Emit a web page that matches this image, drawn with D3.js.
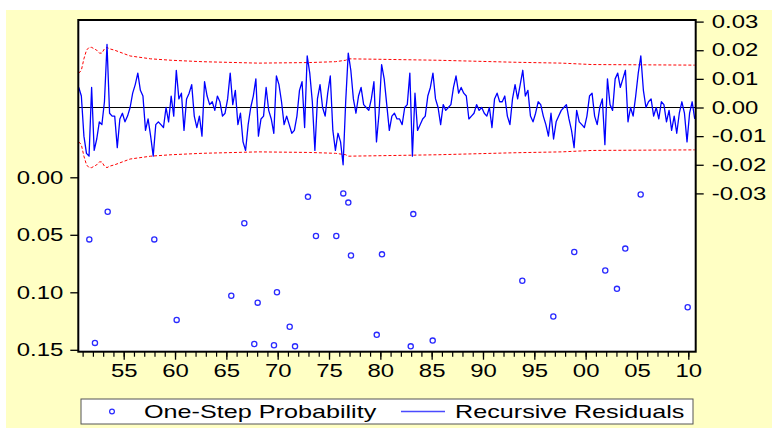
<!DOCTYPE html>
<html>
<head>
<meta charset="utf-8">
<script src="https://cdn.jsdelivr.net/npm/d3@7"></script>
<style>
  html, body { margin: 0; padding: 0; background: #ffffff; }
  svg { display: block; }
  text { font-family: "Liberation Sans", Arial, sans-serif; fill: #000; }
</style>
</head>
<body>
<svg id="chart" width="772" height="428"></svg>
<script>
// ---------------- DATA ----------------
// Recursive residuals, quarterly, first observation 1950Q3
const residStart = 1950.625;   // centre of 1950Q3
const residStep = 0.25;
const residuals = [
  0.007, 0.004, -0.010, -0.016, -0.017, 0.007, -0.015, -0.011, -0.005, -0.006,
  0.002, 0.022, -0.002, -0.003, -0.003, -0.014, -0.004, -0.002, -0.005, -0.003,
  0.000, 0.005, 0.008, 0.012, 0.006, 0.004, -0.008, -0.004, -0.010, -0.017,
  -0.006, -0.005, -0.006, -0.007, 0.000, -0.005, 0.004, -0.003, 0.013, 0.003,
  0.005, -0.008, 0.003, 0.005, 0.008, -0.003, -0.007, -0.003, -0.010, 0.009,
  0.004, 0.001, 0.002, -0.001, 0.004, 0.002, -0.003, -0.002, 0.003, 0.012,
  0.001, 0.006, -0.006, -0.002, -0.012, -0.015, -0.006, 0.000, 0.004, 0.010,
  -0.010, -0.004, -0.003, 0.007, -0.001, -0.004, -0.009, 0.011, 0.008, 0.002,
  -0.006, -0.003, -0.006, -0.009, -0.008, -0.003, 0.006, 0.009, -0.007, 0.018,
  0.012, 0.002, -0.015, 0.003, 0.008, 0.000, -0.003, 0.005, 0.011, -0.008,
  -0.015, -0.009, -0.012, -0.020, 0.002, 0.019, 0.013, 0.003, -0.002, 0.004,
  0.007, 0.001, 0.000, -0.001, 0.003, 0.009, -0.012, -0.002, 0.015, 0.010,
  0.001, -0.008, -0.003, -0.002, -0.004, -0.004, -0.006, 0.000, 0.001, 0.012,
  -0.017, 0.005, -0.008, -0.006, -0.004, -0.003, 0.004, 0.007, 0.012, 0.003,
  0.000, -0.006, 0.001, -0.001, 0.000, 0.001, 0.007, 0.011, 0.005, 0.007,
  0.005, 0.004, -0.004, -0.003, -0.002, 0.001, -0.001, 0.000, -0.002, -0.003,
  0.000, -0.007, 0.003, 0.005, 0.002, 0.002, 0.004, -0.003, -0.006, 0.003,
  0.008, 0.003, 0.008, 0.013, 0.004, 0.006, -0.003, -0.005, -0.002, 0.002,
  0.001, -0.003, -0.006, -0.010, -0.002, -0.011, -0.005, -0.003, -0.001, 0.000,
  0.001, -0.004, -0.008, -0.014, -0.001, -0.005, -0.006, -0.007, -0.003, 0.004,
  0.005, -0.003, -0.006, 0.000, 0.003, -0.013, 0.010, 0.001, -0.001, 0.010,
  0.012, 0.007, 0.010, 0.013, -0.005, 0.000, -0.003, 0.004, 0.012, 0.018,
  0.006, 0.000, 0.002, 0.003, -0.003, 0.000, -0.004, 0.002, 0.001, -0.005,
  -0.001, -0.008, -0.003, -0.009, -0.002, 0.002, -0.002, -0.012, -0.002, 0.002, -0.004
];

// +/- 2 S.E. band (half-width) at selected observations
const bandIndex = [0, 1, 2, 3, 4, 5, 6, 7, 8, 9, 10, 11, 12, 14, 20, 28, 36, 48, 70, 90, 100, 104, 105, 120, 140, 170, 188, 200, 240];
const bandHalf  = [0.012, 0.013, 0.017, 0.020, 0.021, 0.021, 0.0205, 0.020, 0.019, 0.019, 0.0205, 0.021, 0.0205, 0.020, 0.018, 0.017, 0.0165, 0.016, 0.0155, 0.0157, 0.016, 0.0165, 0.017, 0.0168, 0.0165, 0.0158, 0.0155, 0.015, 0.0148];

// One-step probabilities (only those below 0.15 are plotted)
const probDates = [1951.65, 1952.20, 1953.44, 1957.98, 1960.16, 1965.48, 1966.75, 1967.72, 1968.05, 1969.64,
                   1969.93, 1971.17, 1971.69, 1972.95, 1973.73, 1975.71, 1976.39, 1976.88, 1977.14, 1979.65,
                   1980.16, 1982.96, 1983.21, 1985.10, 1993.83, 1996.85, 1998.89, 2001.91, 2003.05, 2003.86,
                   2005.36, 2009.94];
const probValues = [0.054, 0.144, 0.030, 0.054, 0.124, 0.103, 0.040, 0.145, 0.109, 0.146,
                    0.100, 0.130, 0.147, 0.017, 0.051, 0.051, 0.014, 0.022, 0.068, 0.137,
                    0.067, 0.147, 0.032, 0.142, 0.090, 0.121, 0.065, 0.081, 0.097, 0.062,
                    0.015, 0.113];

const leftTicks  = [0.00, 0.05, 0.10, 0.15];
const rightTicks = [-0.03, -0.02, -0.01, 0.00, 0.01, 0.02, 0.03];
const majorYears = [1955, 1960, 1965, 1970, 1975, 1980, 1985, 1990, 1995, 2000, 2005, 2010];
const minorYears = d3.range(1951, 2011);
const xDomain = [1950.5, 2010.75];
const legendLabels = ["One-Step Probability", "Recursive Residuals"];

// ---------------- LAYOUT ----------------
const plot = { left: 78.3, right: 695.7, top: 20, bottom: 351.7 };
const SX = 1.33; // horizontal stretch of text in the reference
const fmt2 = d => d.toFixed(2);

const svg = d3.select("#chart");

svg.append("rect").attr("x", 6).attr("y", 10).attr("width", 766).attr("height", 418).attr("fill", "#ffffc4");
svg.append("rect").attr("x", plot.left).attr("y", plot.top)
  .attr("width", plot.right - plot.left).attr("height", plot.bottom - plot.top).attr("fill", "#ffffff");

const x = d3.scaleLinear().domain(xDomain).range([77.5, 696]);
const yR = d3.scaleLinear().domain([-0.03, 0.03]).range([193.4, 21.6]);
const yL = d3.scaleLinear().domain([0, 0.15]).range([177.3, 349.8]);

const tOf = i => residStart + i * residStep;

// clip
svg.append("clipPath").attr("id", "clip").append("rect")
  .attr("x", plot.left).attr("y", plot.top).attr("width", plot.right - plot.left).attr("height", plot.bottom - plot.top);
const g = svg.append("g").attr("clip-path", "url(#clip)");

// band
const bandData = bandIndex.map((idx, k) => ({ t: tOf(idx), h: bandHalf[k] }));
const bandUp = d3.line().x(d => x(d.t)).y(d => yR(d.h));
const bandDn = d3.line().x(d => x(d.t)).y(d => yR(-d.h));
g.append("path").datum(bandData).attr("d", bandUp).attr("fill", "none")
  .attr("stroke", "#ff0000").attr("stroke-width", 1).attr("stroke-dasharray", "3,2");
g.append("path").datum(bandData).attr("d", bandDn).attr("fill", "none")
  .attr("stroke", "#ff0000").attr("stroke-width", 1).attr("stroke-dasharray", "3,2");

// zero line
g.append("line").attr("x1", plot.left).attr("x2", plot.right)
  .attr("y1", yR(0)).attr("y2", yR(0)).attr("stroke", "#000").attr("stroke-width", 1.2);

// residual line
const resLine = d3.line().x((d, i) => x(tOf(i))).y(d => yR(d));
g.append("path").datum(residuals).attr("d", resLine).attr("fill", "none")
  .attr("stroke", "#0000ff").attr("stroke-width", 1.3).attr("stroke-linejoin", "round");

// probability points
g.selectAll("circle.p").data(probDates).join("circle").attr("class", "p")
  .attr("cx", d => x(d)).attr("cy", (d, i) => yL(probValues[i]))
  .attr("r", 2.6).attr("fill", "none").attr("stroke", "#2a2aff").attr("stroke-width", 1.3);

// frame
svg.append("rect").attr("x", plot.left).attr("y", plot.top)
  .attr("width", plot.right - plot.left).attr("height", plot.bottom - plot.top)
  .attr("fill", "none").attr("stroke", "#000").attr("stroke-width", 2);

function styleTexts(sel, xPix, anchor) {
  sel.selectAll("text")
    .attr("x", xPix / SX).attr("text-anchor", anchor)
    .attr("transform", `scale(${SX},1)`)
    .style("font-size", "18px").style("font-family", "'Liberation Sans', Arial, sans-serif").attr("fill", "#000");
}

// left axis
const gl = svg.append("g").attr("transform", `translate(${plot.left},0)`)
  .call(d3.axisLeft(yL).tickValues(leftTicks).tickFormat(fmt2).tickSize(8).tickPadding(0));
gl.select(".domain").remove();
gl.selectAll(".tick line").attr("stroke", "#000").attr("stroke-width", 1.3);
styleTexts(gl, -15, "end");

// right axis
const gr = svg.append("g").attr("transform", `translate(${plot.right},0)`)
  .call(d3.axisRight(yR).tickValues(rightTicks).tickFormat(fmt2).tickSize(8).tickPadding(0));
gr.select(".domain").remove();
gr.selectAll(".tick line").attr("stroke", "#000").attr("stroke-width", 1.3);
styleTexts(gr, 16, "start");

// bottom axis, minor ticks
const gbm = svg.append("g").attr("transform", `translate(0,${plot.bottom})`)
  .call(d3.axisBottom(x).tickValues(minorYears).tickFormat("").tickSize(5));
gbm.select(".domain").remove();
gbm.selectAll(".tick line").attr("stroke", "#000").attr("stroke-width", 1.2);

// bottom axis, major ticks + labels
const gb = svg.append("g").attr("transform", `translate(0,${plot.bottom})`)
  .call(d3.axisBottom(x).tickValues(majorYears).tickFormat(d => String(d).slice(2)).tickSize(8).tickPadding(5));
gb.select(".domain").remove();
gb.selectAll(".tick line").attr("stroke", "#000").attr("stroke-width", 1.3);
styleTexts(gb, 0, "middle");

// legend
const lg = svg.append("g");
lg.append("rect").attr("x", 81).attr("y", 399).attr("width", 612).attr("height", 25)
  .attr("fill", "#ffffff").attr("stroke", "#555").attr("stroke-width", 1);
lg.append("circle").attr("cx", 112).attr("cy", 411.5).attr("r", 2.4)
  .attr("fill", "none").attr("stroke", "#2a2aff").attr("stroke-width", 1.2);
lg.append("text").attr("transform", `translate(144,418) scale(1.4,1)`)
  .style("font-size", "18px").text(legendLabels[0]);
lg.append("path").attr("d", d3.line()([[401, 411.5], [445, 411.5]]))
  .style("stroke", "#4a4aff").style("stroke-width", "1.5px").style("fill", "none");
lg.append("text").attr("transform", `translate(455,418) scale(1.4,1)`)
  .style("font-size", "18px").text(legendLabels[1]);
</script>
</body>
</html>
